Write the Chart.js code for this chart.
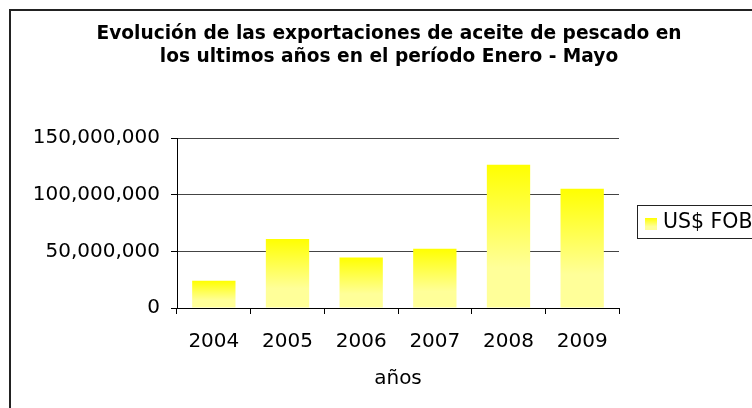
<!DOCTYPE html>
<html>
<head>
<meta charset="utf-8">
<script src="https://cdn.jsdelivr.net/npm/chart.js@4/dist/chart.umd.min.js"></script>
<style>
  html, body { margin: 0; padding: 0; background: #fff; overflow: hidden; }
  canvas { display: block; }
</style>
</head>
<body>
<canvas id="c" width="778" height="420"></canvas>
<script>
// data (US$ FOB, Jan–May)
const years  = ['2004', '2005', '2006', '2007', '2008', '2009'];
const fobUsd = [24000000, 61000000, 44500000, 52300000, 126500000, 105300000];
const yTicks = [0, 50000000, 100000000, 150000000];
const seriesLabel = 'US$ FOB';
const titleLines  = ['Evolución de las exportaciones de aceite de pescado en', 'los ultimos años en el período Enero - Mayo'];
const xTitle = 'años';

const FONT = 'DejaVu Sans';

function yellowFill(g) {
  g.addColorStop(0, '#FFFF00');
  g.addColorStop(0.72, '#FFFF99');
  g.addColorStop(1, '#FFFF99');
  return g;
}

function barFill(ctx) {
  const chart = ctx.chart;
  const ys = chart.scales && chart.scales.y;
  if (!ys || ctx.type !== 'data' || ys.top === undefined) return '#FFFF66';
  const top  = ys.getPixelForValue(ctx.raw);
  const base = ys.getPixelForValue(0);
  return yellowFill(chart.ctx.createLinearGradient(0, top, 0, base));
}

// outer chart frame (runs past the right/bottom edge like the reference)
const framePlugin = {
  id: 'frame',
  beforeDraw(chart) {
    const c = chart.ctx;
    c.save();
    c.strokeStyle = '#222';
    c.lineWidth = 2;
    c.strokeRect(10, 10, 758, 430);
    c.restore();
  }
};

// boxed legend on the right, like Excel's
const legendBoxPlugin = {
  id: 'legendBox',
  afterDraw(chart) {
    const c = chart.ctx;
    const label = chart.data.datasets[0].label;
    c.save();
    c.font = '20.5px "' + FONT + '"';
    const tw = c.measureText(label).width;
    c.strokeStyle = '#222';
    c.lineWidth = 1;
    c.strokeRect(637.5, 205.5, 26 + tw + 10, 33);
    c.fillStyle = yellowFill(c.createLinearGradient(0, 218, 0, 230));
    c.fillRect(645, 218, 12, 12);
    c.fillStyle = '#000';
    c.textBaseline = 'middle';
    c.fillText(label, 663, 223);
    c.restore();
  }
};

new Chart(document.getElementById('c'), {
  type: 'bar',
  data: {
    labels: years,
    datasets: [{
      label: seriesLabel,
      data: fobUsd,
      backgroundColor: barFill,
      borderWidth: 0,
      barPercentage: 0.588,
      categoryPercentage: 1
    }]
  },
  options: {
    responsive: false,
    animation: false,
    layout: { padding: 0 },
    plugins: {
      legend: { display: false },
      tooltip: { enabled: false },
      title: {
        display: true,
        text: titleLines,
        color: '#000',
        font: { family: FONT, size: 18.6, weight: 'bold', lineHeight: 1.24 },
        padding: { top: 23, bottom: 69 }
      }
    },
    scales: {
      x: {
        grid: { display: true, drawOnChartArea: false, offset: true, tickLength: 6, tickColor: '#000' },
        border: { display: true, color: '#000', width: 1 },
        ticks: { color: '#000', font: { family: FONT, size: 20 }, padding: 16, maxRotation: 0 },
        title: { display: true, text: xTitle, color: '#000', font: { family: FONT, size: 20 }, padding: { top: 4, bottom: 29 } },
        afterFit(s) { s.height = 112; }
      },
      y: {
        min: 0,
        max: 150000000,
        afterBuildTicks(s) { s.ticks = yTicks.map(v => ({ value: v })); },
        grid: { color: '#444', lineWidth: 1, tickLength: 6, tickColor: '#000' },
        border: { display: true, color: '#000', width: 1 },
        ticks: {
          color: '#000',
          font: { family: FONT, size: 20 },
          padding: 11,
          callback: v => Number(v).toLocaleString('en-US')
        },
        afterFit(s) { s.width = 177; }
      },
      pad: {
        type: 'linear',
        position: 'right',
        display: true,
        grid: { display: false },
        border: { display: false },
        ticks: { display: false },
        afterFit(s) { s.width = 159; }
      }
    }
  },
  plugins: [framePlugin, legendBoxPlugin]
});
</script>
</body>
</html>
